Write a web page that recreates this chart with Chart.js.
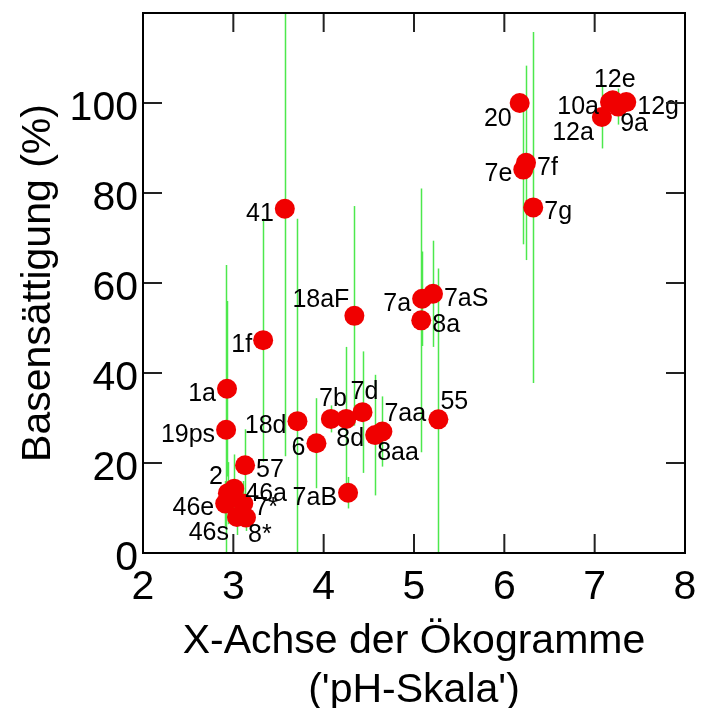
<!DOCTYPE html>
<html>
<head>
<meta charset="utf-8">
<title>Basensättigung</title>
<script src="https://cdn.jsdelivr.net/npm/chart.js@4/dist/chart.umd.min.js"></script>
<style>
  html, body { margin: 0; padding: 0; background: #fff; }
  #wrap { width: 701px; height: 708px; }
</style>
</head>
<body>
<div id="wrap"><canvas id="scatter-chart" width="701" height="708"></canvas></div>
<script>
// vegetation units: position on the pH axis, base saturation and its spread
var unitNames = ['20', '7f', '7e', '7g', '10a', '12e', '9a', '12g', '12a',
	'41', '18aF', '7a', '7aS', '8a', '1f', '1a', '19ps', '18d', '7b', '8d',
	'7d', '7aa', '8aa', '6', '55', '57', '2', '46a', '46e', '7*', '46s', '8*', '7aB'];
var phScale = [6.17, 6.24, 6.21, 6.32, 7.17, 7.20, 7.26, 7.35, 7.08,
	3.57, 4.34, 5.09, 5.21, 5.08, 3.33, 2.93, 2.92, 3.71, 4.08, 4.25,
	4.43, 4.65, 4.57, 3.92, 5.27, 3.13, 2.94, 3.01, 2.91, 3.11, 3.04, 3.14, 4.27];
var baseSaturation = [100, 86.7, 85.2, 76.8, 100.2, 100.6, 99.2, 100.2, 96.9,
	76.5, 52.7, 56.5, 57.6, 51.7, 47.3, 36.5, 27.4, 29.3, 29.8, 29.8,
	31.3, 27.0, 26.2, 24.4, 29.7, 19.5, 13.3, 14.3, 11.0, 11.0, 8.0, 7.9, 13.4];
var saturationSpread = [2, 21.6, 16.6, 39, 2, 2, 4, 2, 7,
	55, 24.4, 10.5, 11.8, 29.3, 27, 19.5, 36.6, 45, 3, 16,
	13.5, 7.8, 13.4, 10, 33.5, 8, 6.9, 7.6, 5, 5, 4, 3, 3.5];
// which side of the dot each name is written on
var labelSides = ['bl', 'r', 'l', 'r', 'l', 't', 'br', 'r', 'bl',
	'l', 'tl', 'l', 'r', 'r', 'l', 'l', 'l', 'l', 't', 'b',
	't', 'tr', 'br', 'l', 'tr', 'r', 'tl', 'r', 'l', 'r', 'bl', 'br', 'l'];
var xTicks = [2, 3, 4, 5, 6, 7, 8];
var yTicks = [0, 20, 40, 60, 80, 100, 120];

var fontFamily = "'Liberation Sans', Arial, Helvetica, sans-serif";

var points = [];
for (var i = 0; i < unitNames.length; i++) {
	points.push({ x: phScale[i], y: baseSaturation[i] });
}

/**
 * green vertical bars: base saturation +/- spread
 */
var spreadBars = {
	id: 'spreadBars',
	beforeDatasetsDraw: function(chart) {
		var ctx = chart.ctx;
		var area = chart.chartArea;
		var xs = chart.scales.x;
		var ys = chart.scales.y;
		ctx.save();
		ctx.beginPath();
		ctx.rect(area.left, area.top, area.right - area.left, area.bottom - area.top);
		ctx.clip();
		ctx.strokeStyle = '#4de84d';
		ctx.lineWidth = 1.5;
		for (var i = 0; i < unitNames.length; i++) {
			if (!saturationSpread[i]) continue;
			var px = Math.round(xs.getPixelForValue(phScale[i])) + 0.5;
			ctx.beginPath();
			ctx.moveTo(px, ys.getPixelForValue(baseSaturation[i] + saturationSpread[i]));
			ctx.lineTo(px, ys.getPixelForValue(baseSaturation[i] - saturationSpread[i]));
			ctx.stroke();
		}
		ctx.restore();
	}
};

/**
 * unit names next to the dots
 */
var sideOffsets = {
	l:  { align: 'right',  dx: -11, dy: 5 },
	r:  { align: 'left',   dx: 11,  dy: 5 },
	t:  { align: 'center', dx: 2,   dy: -20 },
	b:  { align: 'center', dx: 4,   dy: 20 },
	tl: { align: 'right',  dx: -5,  dy: -16 },
	tr: { align: 'left',   dx: 2,   dy: -17 },
	bl: { align: 'right',  dx: -8,  dy: 16 },
	br: { align: 'left',   dx: 2,   dy: 18 }
};

var unitLabels = {
	id: 'unitLabels',
	afterDatasetsDraw: function(chart) {
		var ctx = chart.ctx;
		var xs = chart.scales.x;
		var ys = chart.scales.y;
		ctx.save();
		ctx.font = '25px ' + fontFamily;
		ctx.fillStyle = '#000';
		ctx.textBaseline = 'middle';
		for (var i = 0; i < unitNames.length; i++) {
			var side = sideOffsets[labelSides[i]];
			ctx.textAlign = side.align;
			ctx.fillText(unitNames[i],
				xs.getPixelForValue(phScale[i]) + side.dx,
				ys.getPixelForValue(baseSaturation[i]) + side.dy);
		}
		ctx.restore();
	}
};

/**
 * box around the plot with ticks pointing inwards on all four sides
 */
var plotFrame = {
	id: 'plotFrame',
	afterDraw: function(chart) {
		var ctx = chart.ctx;
		var area = chart.chartArea;
		var xs = chart.scales.x;
		var ys = chart.scales.y;
		var tickLen = 19;
		ctx.save();
		ctx.strokeStyle = '#222';
		ctx.lineWidth = 2;
		xTicks.forEach(function(v) {
			var px = xs.getPixelForValue(v);
			ctx.beginPath();
			ctx.moveTo(px, area.bottom);
			ctx.lineTo(px, area.bottom - tickLen);
			ctx.moveTo(px, area.top);
			ctx.lineTo(px, area.top + tickLen);
			ctx.stroke();
		});
		yTicks.forEach(function(v) {
			var py = ys.getPixelForValue(v);
			ctx.beginPath();
			ctx.moveTo(area.left, py);
			ctx.lineTo(area.left + tickLen, py);
			ctx.moveTo(area.right, py);
			ctx.lineTo(area.right - tickLen, py);
			ctx.stroke();
		});
		ctx.strokeStyle = '#000';
		ctx.strokeRect(area.left, area.top, area.right - area.left, area.bottom - area.top);
		ctx.restore();
	}
};

var ctx = document.getElementById('scatter-chart');
var scatterChart = new Chart(ctx, {
	type: 'scatter',
	data: {
		datasets: [
			{
				label: 'Basensättigung',
				data: points,
				pointRadius: 10,
				pointHoverRadius: 10,
				pointBackgroundColor: '#f00000',
				pointBorderWidth: 0,
				borderWidth: 0
			}
		]
	},
	options: {
		responsive: false,
		animation: false,
		layout: { padding: { top: 13, right: 16, left: 0, bottom: 0 } },
		plugins: {
			legend: { display: false },
			tooltip: { enabled: false }
		},
		scales: {
			x: {
				type: 'linear',
				min: 2,
				max: 8,
				afterFit: function(scale) {
					scale.height = 155;
					scale.paddingLeft = 0;
					scale.paddingRight = 0;
				},
				grid: { display: false, drawTicks: false },
				border: { display: false },
				ticks: {
					stepSize: 1,
					padding: 10,
					color: '#000',
					font: { family: fontFamily, size: 41 }
				},
				title: {
					display: true,
					text: ['X-Achse der Ökogramme', "('pH-Skala')"],
					color: '#000',
					padding: { top: 0, bottom: -7 },
					font: { family: fontFamily, size: 41, lineHeight: 1.2 }
				}
			},
			y: {
				type: 'linear',
				min: 0,
				max: 120,
				afterFit: function(scale) {
					scale.width = 143;
					scale.paddingTop = 0;
					scale.paddingBottom = 0;
				},
				grid: { display: false, drawTicks: false },
				border: { display: false },
				ticks: {
					stepSize: 20,
					padding: 5,
					labelOffset: 6,
					color: '#000',
					font: { family: fontFamily, size: 41 },
					callback: function(value) { return value === 120 ? '' : value; }
				},
				title: {
					display: true,
					text: 'Basensättigung (%)',
					color: '#000',
					padding: { top: 14, bottom: 0 },
					font: { family: fontFamily, size: 41, lineHeight: 1.2 }
				}
			}
		}
	},
	plugins: [spreadBars, unitLabels, plotFrame]
});
</script>
</body>
</html>
